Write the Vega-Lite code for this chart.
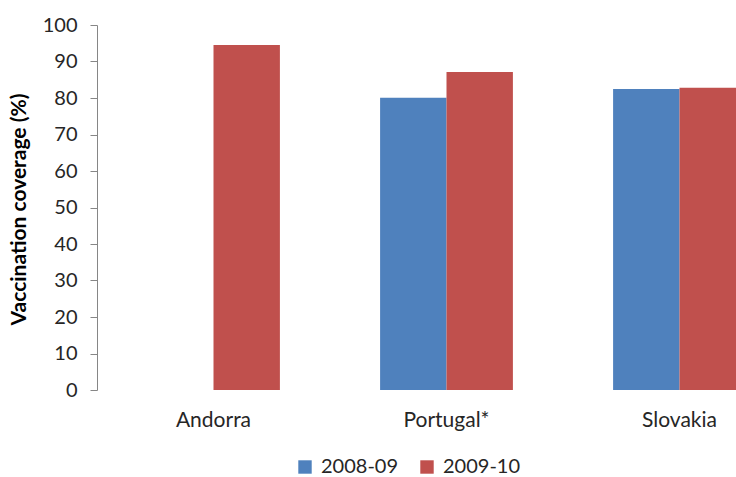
{
  "$schema": "https://vega.github.io/schema/vega-lite/v6.json",
  "width": 639,
  "height": 365,
  "autosize": {"type": "none"},
  "padding": {"left": 97, "top": 25, "right": 0, "bottom": 87},
  "background": "white",
  "config": {
    "view": {"stroke": null},
    "font": "Lato"
  },
  "data": {
    "values": [
      {"country": "Andorra", "season": "2009-10", "coverage": 94.5},
      {"country": "Portugal*", "season": "2008-09", "coverage": 80.1},
      {"country": "Portugal*", "season": "2009-10", "coverage": 87.1},
      {"country": "Slovakia", "season": "2008-09", "coverage": 82.5},
      {"country": "Slovakia", "season": "2009-10", "coverage": 82.8}
    ]
  },
  "mark": {"type": "bar", "clip": false},
  "encoding": {
    "x": {
      "field": "country",
      "type": "nominal",
      "sort": ["Andorra", "Portugal*", "Slovakia"],
      "scale": {"range": [0, 699], "paddingInner": 0.43, "paddingOuter": 0.215},
      "axis": {
        "title": null,
        "domain": false,
        "ticks": false,
        "labelAngle": 0,
        "labelFontSize": 21,
        "labelColor": "#262626",
        "labelPadding": 19,
        "labelFont": "Lato"
      }
    },
    "xOffset": {
      "field": "season",
      "type": "nominal",
      "scale": {"domain": ["2008-09", "2009-10"], "paddingInner": 0, "paddingOuter": 0}
    },
    "y": {
      "field": "coverage",
      "type": "quantitative",
      "scale": {"domain": [0, 100]},
      "axis": {
        "title": "Vaccination coverage (%)",
        "titleFont": "Lato",
        "titleFontSize": 21,
        "titleFontWeight": "bold",
        "titleColor": "#000000",
        "titleAngle": -90,
        "titleAlign": "center",
        "titleBaseline": "middle",
        "titleX": -78,
        "titleY": 184,
        "values": [0, 10, 20, 30, 40, 50, 60, 70, 80, 90, 100],
        "grid": false,
        "domainColor": "#868686",
        "tickColor": "#868686",
        "tickSize": 7,
        "labelPadding": 13,
        "labelFontSize": 20,
        "labelColor": "#262626",
        "labelFont": "Lato"
      }
    },
    "color": {
      "field": "season",
      "type": "nominal",
      "scale": {"domain": ["2008-09", "2009-10"], "range": ["#4F81BD", "#C0504D"]},
      "legend": {
        "title": null,
        "orient": "none",
        "direction": "horizontal",
        "legendX": 198,
        "legendY": 432,
        "symbolType": "square",
        "symbolSize": 180,
        "symbolStrokeWidth": 0,
        "labelFontSize": 20,
        "labelColor": "#262626",
        "labelFont": "Lato",
        "columnPadding": 18,
        "labelOffset": 6
      }
    }
  }
}
